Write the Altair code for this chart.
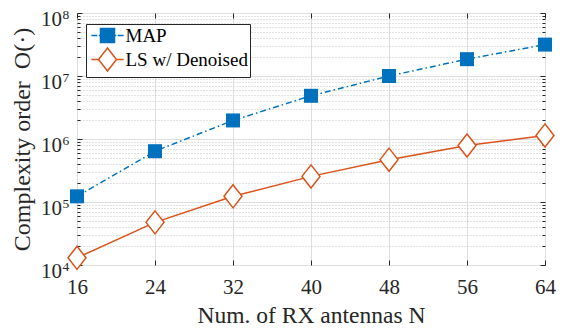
import altair as alt
import pandas as pd

# ---------------- data ----------------
N_ANT = [16, 24, 32, 40, 48, 56, 64]
MAP_VALS = [1.23e5, 6.4e5, 1.97e6, 4.85e6, 1.0e7, 1.85e7, 3.15e7]
LS_VALS = [1.3e4, 4.75e4, 1.23e5, 2.55e5, 4.7e5, 7.9e5, 1.14e6]
SERIES = ["MAP", "LS w/ Denoised"]
X_TICKS = [16, 24, 32, 40, 48, 56, 64]
Y_EXPONENTS = [4, 5, 6, 7, 8]
Y_TITLE = "Complexity order\u00a0\u00a0O(·)"
X_TITLE = "Num. of RX antennas N"

# ---------------- styling ----------------
W, H = 468, 252
FONT = "Liberation Serif"
BLUE = "#0072BD"
ORANGE = "#D95319"
INK = "#262626"

df_map = pd.DataFrame({"N": N_ANT, "val": MAP_VALS})
df_ls = pd.DataFrame({"N": N_ANT, "val": LS_VALS})
df_all = pd.DataFrame({"N": N_ANT * 2, "val": MAP_VALS + LS_VALS,
                       "series": [SERIES[0]] * len(N_ANT) + [SERIES[1]] * len(N_ANT)})
dec = pd.DataFrame({"val": [10.0 ** e for e in Y_EXPONENTS],
                    "base": ["10"] * len(Y_EXPONENTS),
                    "exp": [str(e) for e in Y_EXPONENTS]})
majors = [10.0 ** e for e in Y_EXPONENTS]
minors = [k * 10.0 ** e for e in Y_EXPONENTS[:-1] for k in range(2, 10)]

xs = alt.Scale(domain=[16, 64], nice=False, zero=False)
ys = alt.Scale(type="log", domain=[1e4, 1e8], nice=False)


def guide(x_axis, y_axis):
    return alt.Chart(df_map).mark_point(opacity=0).encode(
        x=alt.X("N:Q", scale=xs, axis=x_axis),
        y=alt.Y("val:Q", scale=ys, axis=y_axis),
    )


def tick_axis(orient, values, size, offset):
    return alt.Axis(orient=orient, offset=offset, values=values, ticks=True,
                    tickSize=size, tickColor=INK, tickWidth=1, labels=False,
                    domain=False, grid=False, title=None, minExtent=0,
                    maxExtent=0)


x_main = alt.Axis(orient="bottom", values=X_TICKS, grid=True, gridColor="#dedede",
                  gridWidth=1, ticks=False, tickSize=0, domain=False, format="d",
                  labelFont=FONT, labelFontSize=21, labelColor=INK,
                  labelPadding=11, labelFlush=False,
                  title=X_TITLE, titleFont=FONT, titleFontSize=23.5,
                  titleFontWeight="normal", titleColor=INK, titlePadding=6)
y_main = alt.Axis(orient="left", values=majors, grid=True, gridColor="#dedede",
                  gridWidth=1, ticks=False, tickSize=0, domain=False, labels=False,
                  minExtent=0, maxExtent=0,
                  title=Y_TITLE, titleFont=FONT, titleFontSize=24,
                  titleFontWeight="normal", titleColor=INK, titlePadding=43)
y_minor = alt.Axis(orient="left", values=minors, grid=True, gridColor="#c4c4c4",
                   gridWidth=1, gridDash=[1, 2], ticks=False, domain=False,
                   labels=False, title=None, minExtent=0, maxExtent=0)

guides = [
    guide(None, y_minor),
    guide(None, y_main),
    guide(x_main, None),
    guide(None, tick_axis("right", majors, 5, -W)),
    guide(None, tick_axis("right", minors, 3, -W)),
    guide(None, tick_axis("left", majors, 5, -W)),
    guide(None, tick_axis("left", minors, 3, -W)),
    guide(tick_axis("top", X_TICKS, 5, -H), None),
    guide(tick_axis("bottom", X_TICKS, 5, -H), None),
]

enc = dict(x=alt.X("N:Q", scale=xs, axis=None), y=alt.Y("val:Q", scale=ys, axis=None))

map_line = alt.Chart(df_map).mark_line(color=BLUE, strokeWidth=1.5,
                                       strokeDash=[6, 3, 1.5, 3]).encode(**enc)
ls_line = alt.Chart(df_ls).mark_line(color=ORANGE, strokeWidth=1.5).encode(**enc)
map_pts = alt.Chart(df_map).mark_point(shape="square", filled=True, size=196,
                                       color=BLUE, opacity=1).encode(**enc)
DIAMOND = "M0,-1.28L1,0L0,1.28L-1,0Z"
ls_pts = alt.Chart(df_ls).mark_point(shape=DIAMOND, filled=True, fill="white",
                                     stroke=ORANGE, strokeWidth=1.5, size=324,
                                     opacity=1).encode(**enc)

# y tick labels 10^k
lab10 = alt.Chart(dec).mark_text(align="right", baseline="alphabetic", dy=13,
                                 font=FONT, fontSize=21, color=INK).encode(
    x=alt.value(-15), y=alt.Y("val:Q", scale=ys, axis=None), text="base:N")
labexp = alt.Chart(dec).mark_text(align="left", baseline="alphabetic", dy=5.5,
                                  font=FONT, fontSize=13.5, color=INK).encode(
    x=alt.value(-14.5), y=alt.Y("val:Q", scale=ys, axis=None), text="exp:N")

# legend (symbols with line stubs)
MAP_SYM = ("M-2.3,0H-1.45M-1.25,0H-1.05M-1,-1H1V1H-1ZM1.05,0H1.25M1.45,0H2.3")
LS_SYM = ("M-2.3,0H-1.286M0,-1.643L1.286,0L0,1.643L-1.286,0ZM1.286,0H2.3")
leg_def = alt.Legend(title=None, orient="none", legendX=9, legendY=11,
                     symbolSize=196, symbolStrokeWidth=1.5, labelFont=FONT,
                     labelFontSize=19, labelColor="black", labelOffset=8.5,
                     padding=2, rowPadding=-2, symbolOffset=10,
                     fillColor="white", strokeColor=INK, cornerRadius=0,
                     labelLimit=400)
legend_layer = alt.Chart(df_all).transform_filter("false").mark_point(
    size=196, strokeWidth=1.5, opacity=1).encode(
    x=alt.X("N:Q", scale=xs, axis=None),
    y=alt.Y("val:Q", scale=ys, axis=None),
    shape=alt.Shape("series:N", scale=alt.Scale(domain=SERIES, range=[MAP_SYM, LS_SYM]), legend=leg_def),
    stroke=alt.Stroke("series:N", scale=alt.Scale(domain=SERIES, range=[BLUE, ORANGE]), legend=leg_def),
    fill=alt.Fill("series:N", scale=alt.Scale(domain=SERIES, range=[BLUE, "white"]), legend=leg_def),
)

chart = alt.layer(
    *guides, map_line, ls_line, map_pts, ls_pts, lab10, labexp, legend_layer
).resolve_axis(x="independent", y="independent").properties(
    width=W, height=H,
    autosize=alt.AutoSizeParams(type="none"),
    padding={"left": 69, "top": 5, "right": 13, "bottom": 64},
).configure_view(stroke=INK, strokeWidth=1).configure(font=FONT)

chart.save("out.html", embed_options={"renderer": "svg", "actions": False})
